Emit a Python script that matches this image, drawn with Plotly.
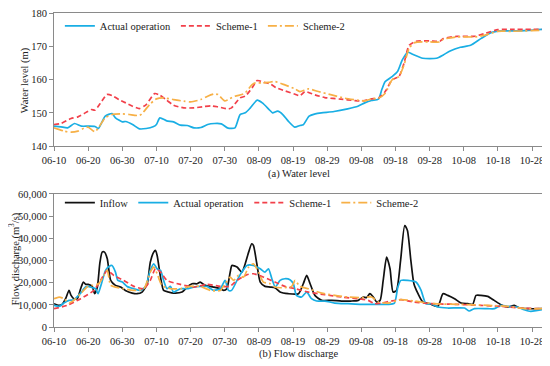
import pandas as pd
import plotly.graph_objects as go

START = "2020-06-10"
TICK_DAYS = [0, 10, 20, 30, 40, 50, 60, 70, 80, 90, 100, 110, 120, 130, 140]
TICK_LABELS = ["06-10", "06-20", "06-30", "07-10", "07-20", "07-30", "08-09", "08-19",
               "08-29", "09-08", "09-18", "09-28", "10-08", "10-18", "10-28"]
END_DAY = 143.2

# ---- (a) Water level (m) ----
wl_act_days = [0, 2, 4, 6, 8, 10, 12, 13, 15, 17, 18, 20, 21, 23, 25, 27, 29, 30, 31, 33, 35, 37, 39, 41,
               43, 45, 47, 49, 51, 53, 54.5, 56, 57.5, 59.5, 61, 63, 64, 65.5, 67, 68.6, 70.5, 72, 73,
               74.7, 76.5, 78.3, 82, 86, 89, 91, 93, 95, 96, 97, 99, 100.6, 102, 103.6, 105, 108, 112,
               114, 116, 119, 122, 125, 128, 131, 134, 139, 143]
wl_act = [146.0, 145.8, 145.5, 146.8, 146.0, 146.0, 145.9, 145.3, 149.0, 149.8, 148.5, 147.3, 147.4,
          146.5, 145.2, 145.3, 145.8, 146.5, 148.5, 147.6, 147.3, 146.3, 146.2, 145.5, 145.6, 146.5,
          146.8, 146.7, 145.4, 145.5, 149.5, 150.0, 151.5, 153.8, 153.0, 151.0, 150.0, 150.5, 149.5,
          147.5, 145.7, 146.2, 146.4, 149.0, 149.7, 150.0, 150.4, 151.2, 152.0, 153.0, 153.7, 154.1,
          157.0, 159.4, 160.9, 162.4, 165.9, 168.2, 167.6, 166.4, 166.4, 167.4, 168.6, 169.7, 170.3,
          172.3, 174.1, 174.6, 174.6, 174.8, 175.1]

wl_s1_days = [0, 2, 5, 7, 10, 11, 12, 14, 15.5, 17, 19, 21, 23, 25, 27, 29.5, 31, 33, 35, 38, 41, 44,
              46, 48, 51, 52, 54.5, 56, 58, 59.5, 61.5, 63.5, 65, 67.6, 70.6, 72, 73.5, 76.4, 79.3, 84,
              88, 90.5, 93, 95, 97, 99, 101, 102.5, 104, 106, 110, 113, 114, 118, 123, 126, 130, 134, 143]
wl_s1 = [146.5, 146.8, 148.3, 148.8, 150.5, 151.0, 150.8, 153.5, 155.5, 155.2, 154.0, 153.0, 152.0,
         151.3, 152.5, 155.8, 155.3, 153.8, 152.3, 151.5, 151.5, 151.9, 152.1, 151.8, 151.2, 151.5,
         154.5, 155.0, 157.5, 159.7, 159.2, 158.6, 157.6, 156.6, 155.6, 155.1, 156.4, 155.4, 154.6,
         154.1, 153.7, 153.6, 154.2, 154.4, 156.4, 159.9, 160.9, 164.9, 170.3, 171.5, 171.6, 171.5,
         172.3, 173.0, 173.0, 173.8, 175.0, 175.1, 175.1]

wl_s2_days = [0, 3, 5, 7, 9, 10, 12, 13, 15, 17, 20, 22, 25, 26, 28, 30, 32, 35, 38, 40, 43, 45, 47,
              48, 50, 51, 53, 55, 56, 58, 59, 61, 63, 64.7, 67.6, 70.6, 72, 74.5, 77.4, 81.3, 85.2,
              89.1, 91, 93, 95, 97, 99, 101, 102.5, 104, 105.6, 110, 113, 114, 118, 123, 126, 130, 134, 143]
wl_s2 = [145.5, 144.5, 144.2, 144.5, 145.5, 145.7, 144.3, 145.5, 148.5, 149.5, 149.7, 149.5, 149.2,
         150.0, 152.5, 154.2, 154.5, 154.0, 153.5, 153.3, 154.0, 155.0, 155.7, 155.5, 153.6, 154.0,
         155.0, 155.5, 156.0, 158.5, 159.0, 159.0, 159.2, 159.4, 158.4, 157.2, 156.4, 157.2, 156.4,
         155.4, 154.4, 153.8, 153.6, 154.2, 154.4, 155.9, 159.9, 160.9, 164.4, 169.4, 171.1, 171.3,
         171.3, 172.1, 172.8, 172.8, 173.3, 174.5, 174.5, 174.8]

# ---- (b) Flow discharge (m3/s) ----
q_in_days = [0, 1.5, 2.4, 3.4, 4.4, 5, 5.8, 6.8, 7.8, 8.6, 9.3, 10, 11.2, 11.9, 12.7, 13.4, 14.1, 14.8,
             15.6, 16.6, 18, 19.5, 20.9, 22.9, 24.3, 25.8, 27.3, 28.2, 29.2, 29.7, 30.2, 31.2, 32.1,
             33.6, 35, 37.5, 39, 40.4, 41.9, 42.8, 44.3, 46.7, 48.7, 49.7, 50.6, 51.6, 52.1, 53.6, 55,
             56, 57, 57.9, 58.4, 59.4, 60.4, 61.8, 63.3, 64.8, 66.2, 68.6, 71.6, 73, 74, 75, 76.4, 78.4,
             81.3, 84.2, 87, 89.1, 90.6, 91.5, 92.5, 93.5, 94.5, 95.5, 96.4, 97.4, 98.4, 99.3, 100.3,
             101.5, 102.7, 103.5, 104.5, 105.4, 106.6, 108, 110, 112.4, 113.9, 115.3, 117.3, 119.2,
             121.2, 122.6, 123.6, 125, 127, 128.9, 130.9, 132.8, 134.8, 136.2, 138.7, 143]
q_in = [10500, 9750, 10200, 12750, 16500, 14250, 12750, 12750, 17250, 20250, 19200, 19200, 18300,
        15000, 18000, 28500, 33750, 33750, 30750, 21000, 18750, 18000, 16500, 15300, 15000, 15750,
        19500, 29250, 33750, 34500, 32250, 22500, 16500, 15750, 15300, 15750, 18000, 19500, 19500,
        20250, 18750, 18000, 17250, 16500, 17250, 24750, 27750, 27000, 24750, 28500, 33750, 37500,
        36750, 28500, 20250, 18300, 18000, 17600, 15750, 15000, 15000, 19500, 23250, 19500, 14250,
        12000, 12000, 11700, 11700, 12000, 13500, 13200, 15000, 13500, 11250, 12000, 21000, 31500,
        26250, 15750, 16500, 30000, 45750, 43500, 30000, 19500, 15000, 11250, 10500, 9300, 15000,
        14250, 12750, 10800, 10500, 10200, 14250, 14250, 13800, 12000, 10050, 9000, 9750, 8700,
        8250, 8250]

q_act_days = [0, 1.5, 2.9, 4.4, 5.8, 7.8, 9.2, 10, 11.2, 12.2, 12.9, 13.6, 15.1, 16.1, 17, 18, 18.7,
              20, 21.4, 23.4, 25.3, 26.8, 28.2, 29.2, 30.2, 31.2, 32.1, 33.1, 34.1, 35, 37, 38.9, 40.9,
              42.8, 44.8, 46.7, 48.7, 50.1, 51.1, 52, 53.6, 55, 56.5, 58.4, 60.4, 61.8, 62.8, 63.8,
              64.8, 66.2, 67.6, 69.1, 70.1, 71, 72.5, 74, 75.4, 76.9, 79.3, 82.2, 86.1, 90, 93.9, 97.8,
              99.7, 100.7, 101.6, 103.6, 106, 107.5, 108.9, 110.4, 112.4, 115.3, 120.2, 121.6, 123.1,
              127, 129, 130.9, 132.8, 135.7, 137.7, 139.6, 141.6, 143]
q_act = [9750, 9300, 10800, 12000, 12300, 15300, 18000, 18300, 17700, 17250, 15000, 18000, 25500,
         27300, 27750, 24750, 21000, 20250, 18300, 17250, 16500, 18300, 25500, 28500, 26250, 25500,
         21000, 17250, 18300, 15750, 17250, 17250, 18000, 18300, 18300, 16500, 17250, 21000, 16500,
         16500, 21000, 24750, 27750, 27750, 26250, 24750, 26250, 21750, 18000, 21000, 21750, 21300,
         19500, 14250, 13500, 15750, 12750, 11700, 11700, 10800, 10500, 10200, 10200, 10200, 10800,
         18000, 21000, 21000, 20250, 16500, 10500, 10500, 9000, 8550, 8550, 7200, 8250, 8250, 8250,
         9750, 9300, 9000, 7800, 7050, 7500, 7800]

q_s1_days = [0, 3.9, 7.8, 11.7, 13.6, 15.6, 17.5, 20.4, 23.4, 26.3, 28.2, 29.7, 31.2, 33.1, 37, 40.9,
             44.8, 48.7, 51.5, 53.6, 56.5, 58.4, 61.3, 64.7, 67.6, 70.6, 74.5, 79.3, 84.2, 89.1, 92,
             93.9, 95.9, 98.8, 101.6, 105.5, 110.4, 118.2, 125, 130.9, 136.7, 143]
q_s1 = [8250, 9750, 12750, 16500, 21000, 25500, 23250, 21000, 18300, 17250, 21000, 26250, 24750,
        21000, 19200, 18000, 19200, 18300, 18300, 21000, 23550, 24000, 22500, 20250, 18300, 17250,
        15750, 14550, 13500, 12750, 12000, 10500, 10800, 11700, 12300, 11250, 10500, 10200, 9750,
        9300, 8550, 8250]

q_s2_days = [0, 1.5, 2.9, 4.4, 5.8, 7.8, 9.7, 11.2, 13.1, 14.6, 15.6, 16.6, 18, 20.4, 23.4, 26.3, 28.2,
             29.2, 30.2, 31.6, 34.1, 37, 39.9, 42.8, 45.8, 48.7, 50.1, 51.6, 52.6, 54, 55.5, 57, 58.4,
             59.9, 61.3, 63.3, 64.7, 66.7, 69.6, 70.6, 72, 74.5, 78.4, 82.2, 86.1, 90, 93, 95, 97.8,
             101.6, 105.5, 111.4, 119.2, 127, 132.8, 138.7, 143]
q_s2 = [12750, 13500, 12750, 10800, 12000, 15000, 18000, 18750, 19500, 23250, 25500, 18750, 18000,
        17250, 16500, 17250, 24750, 27000, 24000, 18750, 17250, 17250, 18300, 18300, 16500, 16500,
        19500, 22500, 21000, 23250, 22500, 27000, 28500, 24750, 20250, 19500, 18000, 17700, 18300,
        21000, 18300, 17250, 15300, 14250, 13500, 13200, 13500, 11250, 10800, 12300, 11700, 10500,
        10200, 9750, 9300, 8250, 8250]


def to_dates(days):
    return pd.Timestamp(START) + pd.to_timedelta(pd.Series(days, dtype=float), unit="D")


BLUE = "#19AEE4"
RED = "#F2404A"
ORANGE = "#F7B046"
BLACK = "#111111"
FONT = "Liberation Serif"
FS = 10.5

fig = go.Figure()

def add(days, vals, name, color, dash, xa, ya, legend):
    fig.add_trace(go.Scatter(
        x=to_dates(days), y=vals, name=name, mode="lines",
        line=dict(color=color, width=1.7, dash=dash, shape="spline", smoothing=0.6),
        xaxis=xa, yaxis=ya, legend=legend))

add(wl_act_days, wl_act, "Actual operation", BLUE, "solid", "x", "y", "legend")
add(wl_s1_days, wl_s1, "Scheme-1", RED, "5px,3px", "x", "y", "legend")
add(wl_s2_days, wl_s2, "Scheme-2", ORANGE, "9px,3px,2px,3px", "x", "y", "legend")

add(q_in_days, q_in, "Inflow", BLACK, "solid", "x2", "y2", "legend2")
add(q_act_days, q_act, "Actual operation", BLUE, "solid", "x2", "y2", "legend2")
add(q_s1_days, q_s1, "Scheme-1", RED, "5px,3px", "x2", "y2", "legend2")
add(q_s2_days, q_s2, "Scheme-2", ORANGE, "9px,3px,2px,3px", "x2", "y2", "legend2")

tickvals = list(to_dates(TICK_DAYS))
xrange = [to_dates([0])[0], to_dates([END_DAY])[0]]

axis_common = dict(showline=True, mirror=True, linecolor="#8a8a8a", linewidth=1,
                   ticks="outside", ticklen=4, tickcolor="#8a8a8a", showgrid=False,
                   zeroline=False, automargin=False, ticklabeloverflow="allow",
                   tickfont=dict(family=FONT, size=FS, color="#222"))

# the page body adds an 8px offset, so the figure is 8px smaller on each axis
fig.update_layout(
    width=542, height=358,
    margin=dict(l=46, r=7, t=3, b=39),
    paper_bgcolor="white", plot_bgcolor="white",
    font=dict(family=FONT, size=FS, color="#222"),
    xaxis=dict(domain=[0, 1], anchor="y", range=xrange, tickvals=tickvals, ticktext=TICK_LABELS,
               **axis_common),
    yaxis=dict(domain=[0.576, 1.0], anchor="x", range=[140, 180], tickvals=[140, 150, 160, 170, 180],
               **axis_common),
    xaxis2=dict(domain=[0, 1], anchor="y2", range=xrange, tickvals=tickvals, ticktext=TICK_LABELS,
                **axis_common),
    yaxis2=dict(domain=[0, 0.424], anchor="x2", range=[0, 60000],
                tickvals=[0, 10000, 20000, 30000, 40000, 50000, 60000], tickformat=",d",
                **axis_common),
    legend=dict(orientation="h", x=0.012, y=0.959, xanchor="left", yanchor="middle",
                bgcolor="rgba(0,0,0,0)", font=dict(family=FONT, size=FS), itemwidth=30),
    legend2=dict(orientation="h", x=0.012, y=0.396, xanchor="left", yanchor="middle",
                 bgcolor="rgba(0,0,0,0)", font=dict(family=FONT, size=FS), itemwidth=30),
    annotations=[
        dict(text="Water level (m)", xref="paper", yref="paper", x=-0.059, y=0.786,
             textangle=-90, xanchor="center", yanchor="middle", showarrow=False,
             font=dict(family=FONT, size=FS)),
        dict(text="Flow discharge (m<sup>3</sup>/s)", xref="paper", yref="paper", x=-0.082, y=0.218,
             textangle=-90, xanchor="center", yanchor="middle", showarrow=False,
             font=dict(family=FONT, size=FS)),
        dict(text="(a) Water level", xref="paper", yref="paper", x=0.5, y=0.487,
             xanchor="center", yanchor="middle", showarrow=False, font=dict(family=FONT, size=FS)),
        dict(text="(b) Flow discharge", xref="paper", yref="paper", x=0.5, y=-0.085,
             xanchor="center", yanchor="middle", showarrow=False, font=dict(family=FONT, size=FS)),
    ],
)

fig.write_html("out.html")
